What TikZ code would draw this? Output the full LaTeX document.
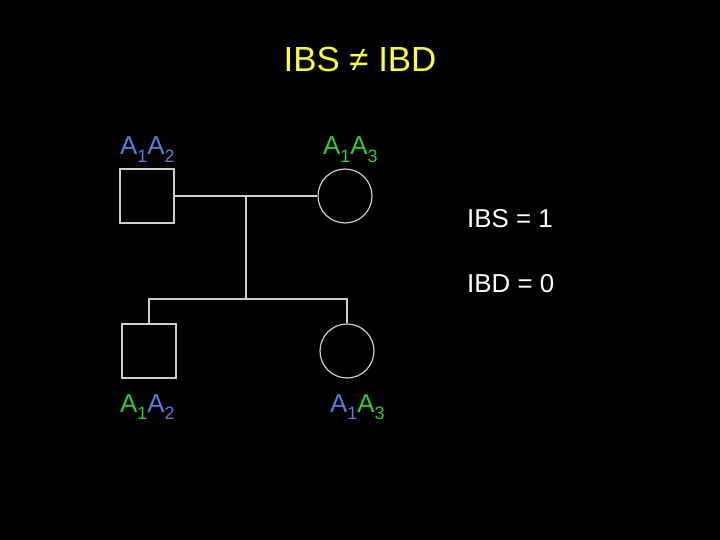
\documentclass[tikz,border=0pt]{standalone}
\usepackage{fontspec}
\setmainfont{Liberation Sans}
\usetikzlibrary{positioning}
\definecolor{allelblue}{RGB}{80,130,220}
\definecolor{allelgreen}{RGB}{50,205,50}
\definecolor{titleyellow}{RGB}{255,255,60}
\definecolor{pedgrey}{RGB}{205,205,205}
\newcommand{\allele}[2]{{\color{#1}A\raisebox{-0.28em}{\fontsize{18}{18}\selectfont #2}}}
\tikzset{
  male/.style={draw=pedgrey, line width=1.2bp, minimum size=54bp, inner sep=0pt},
  female/.style={circle, draw=pedgrey, line width=1.2bp, minimum size=54bp, inner sep=0pt},
  link/.style={pedgrey, line width=1.2bp},
  geno/.style={anchor=base west, inner sep=0pt, font=\fontsize{26}{26}\selectfont},
}
\begin{document}
\begin{tikzpicture}[x=1bp,y=-1bp]
        % Background
        \fill[black] (0,0) rectangle (720,540);

        % Title
        \node[titleyellow, font=\fontsize{35}{35}\selectfont, anchor=base, inner sep=0pt] (title) at (360,72) {IBS ≠ IBD};

        % Parents
        \node[male] (father) at (147,196) {};
        \node[female] (mother) at (345,196) {};

        % Children
        \node[male] (son) at (149,351) {};
        \node[female] (daughter) at (347,351) {};

        % Lines of descent
        \coordinate (mating) at (246,196);
        \coordinate (sibship) at (246,299);
        \draw[link] (father) -- (mother);
        \draw[link] (mating) -- (sibship);
        \draw[link] (son.north) |- (sibship) -| (daughter.north);

        % Genotypes
        \node[geno] (fathergeno) at (120,155) {\allele{allelblue}{1}\allele{allelblue}{2}};
        \node[geno] (mothergeno) at (323,155) {\allele{allelgreen}{1}\allele{allelgreen}{3}};
        \node[geno] (songeno) at (120,412) {\allele{allelgreen}{1}\allele{allelblue}{2}};
        \node[geno] (daughtergeno) at (330,412) {\allele{allelblue}{1}\allele{allelgreen}{3}};

        % Sharing
        \node[geno, white] (ibs) at (467,228) {IBS = 1};
        \node[geno, white] (ibd) at (467,292) {IBD = 0};
\end{tikzpicture}
\end{document}
